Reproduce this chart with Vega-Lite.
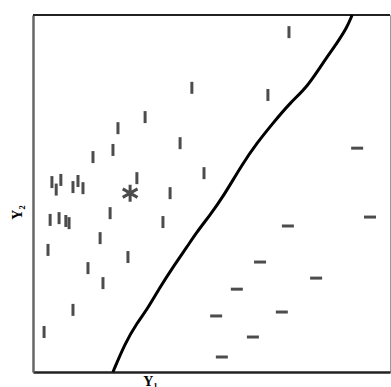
{
  "$schema": "https://vega.github.io/schema/vega-lite/v6.json",
  "width": 357,
  "height": 357,
  "autosize": {"type": "none"},
  "padding": {"left": 33, "top": 15, "right": 1, "bottom": 15},
  "background": "white",
  "config": {
    "view": {"stroke": "#999", "strokeWidth": 1},
    "axis": {"grid": false, "ticks": false, "labels": false, "titleFont": "Liberation Serif", "titleFontWeight": "bold", "titleFontSize": 14, "titleColor": "black"}
  },
  "datasets": {
    "vert": [
      {"y1": 71.7, "y2": 95.2}, {"y1": 44.5, "y2": 79.6}, {"y1": 65.8, "y2": 77.6},
      {"y1": 31.4, "y2": 71.4}, {"y1": 23.8, "y2": 68.3}, {"y1": 41.2, "y2": 64.1},
      {"y1": 22.4, "y2": 62.2}, {"y1": 16.8, "y2": 60.2}, {"y1": 47.9, "y2": 55.7},
      {"y1": 29.1, "y2": 54.3}, {"y1": 5.3, "y2": 53.2}, {"y1": 7.8, "y2": 53.8},
      {"y1": 6.5, "y2": 51.1}, {"y1": 11.2, "y2": 51.8}, {"y1": 12.6, "y2": 53.5},
      {"y1": 14.0, "y2": 51.5}, {"y1": 38.4, "y2": 50.1}, {"y1": 4.8, "y2": 42.6},
      {"y1": 7.3, "y2": 43.1}, {"y1": 9.2, "y2": 42.3}, {"y1": 10.1, "y2": 41.7},
      {"y1": 21.6, "y2": 44.5}, {"y1": 36.4, "y2": 42.0}, {"y1": 18.8, "y2": 37.5},
      {"y1": 4.2, "y2": 34.2}, {"y1": 26.6, "y2": 32.2}, {"y1": 15.4, "y2": 29.1},
      {"y1": 19.6, "y2": 24.9}, {"y1": 11.2, "y2": 17.4}, {"y1": 3.1, "y2": 11.2}
    ],
    "horiz": [
      {"y1": 90.8, "y2": 62.7}, {"y1": 94.4, "y2": 43.4}, {"y1": 71.4, "y2": 40.9},
      {"y1": 63.6, "y2": 30.8}, {"y1": 79.3, "y2": 26.3}, {"y1": 57.1, "y2": 23.2},
      {"y1": 51.3, "y2": 15.7}, {"y1": 69.7, "y2": 16.8}, {"y1": 61.6, "y2": 9.8},
      {"y1": 52.9, "y2": 4.2}
    ],
    "star": [{"y1": 27.2, "y2": 50.1}],
    "curve": [
      {"y1": 22.4, "y2": 0}, {"y1": 25.8, "y2": 8.1}, {"y1": 29.1, "y2": 13.7},
      {"y1": 31.9, "y2": 17.4}, {"y1": 35.6, "y2": 23.8}, {"y1": 39.2, "y2": 29.4},
      {"y1": 43.1, "y2": 35.0}, {"y1": 45.9, "y2": 39.2}, {"y1": 49.6, "y2": 44.0},
      {"y1": 53.2, "y2": 49.0}, {"y1": 58.8, "y2": 58.5}, {"y1": 62.7, "y2": 64.1},
      {"y1": 67.2, "y2": 69.7}, {"y1": 72.0, "y2": 75.4}, {"y1": 76.8, "y2": 79.8},
      {"y1": 81.2, "y2": 86.6}, {"y1": 85.2, "y2": 92.2}, {"y1": 88.0, "y2": 96.6},
      {"y1": 89.4, "y2": 100}
    ],
    "top": [{"y1": 0, "y2": 100}, {"y1": 100, "y2": 100}]
  },
  "layer": [
    {
      "data": {"name": "top"},
      "mark": {"type": "line", "color": "#222", "strokeWidth": 2},
      "encoding": {
        "x": {"field": "y1", "type": "quantitative", "scale": {"domain": [0, 100], "nice": false}, "axis": {"title": "Y₁", "domain": true, "domainColor": "#222", "domainWidth": 2.5, "titleX": 117, "titleY": 2, "titleBaseline": "top", "titleAlign": "center"}},
        "y": {"field": "y2", "type": "quantitative", "scale": {"domain": [0, 100], "nice": false}, "axis": {"title": "Y₂", "domain": true, "domainColor": "#666", "domainWidth": 2.5, "titleX": -16, "titleY": 197, "titleAlign": "center", "titleBaseline": "middle"}}
      }
    },
    {
      "data": {"name": "curve"},
      "mark": {"type": "line", "color": "black", "strokeWidth": 3, "interpolate": "basis"},
      "encoding": {
        "x": {"field": "y1", "type": "quantitative"},
        "y": {"field": "y2", "type": "quantitative"}
      }
    },
    {
      "data": {"name": "vert"},
      "mark": {"type": "tick", "orient": "vertical", "color": "black", "size": 12, "thickness": 3},
      "encoding": {
        "x": {"field": "y1", "type": "quantitative"},
        "y": {"field": "y2", "type": "quantitative"}
      }
    },
    {
      "data": {"name": "horiz"},
      "mark": {"type": "tick", "orient": "horizontal", "color": "black", "size": 12, "thickness": 3},
      "encoding": {
        "x": {"field": "y1", "type": "quantitative"},
        "y": {"field": "y2", "type": "quantitative"}
      }
    },
    {
      "data": {"name": "star"},
      "mark": {"type": "point", "filled": false, "stroke": "black", "strokeWidth": 3, "size": 289, "shape": "M0,-1L0,1M-0.87,-0.5L0.87,0.5M-0.87,0.5L0.87,-0.5"},
      "encoding": {
        "x": {"field": "y1", "type": "quantitative"},
        "y": {"field": "y2", "type": "quantitative"}
      }
    }
  ]
}
